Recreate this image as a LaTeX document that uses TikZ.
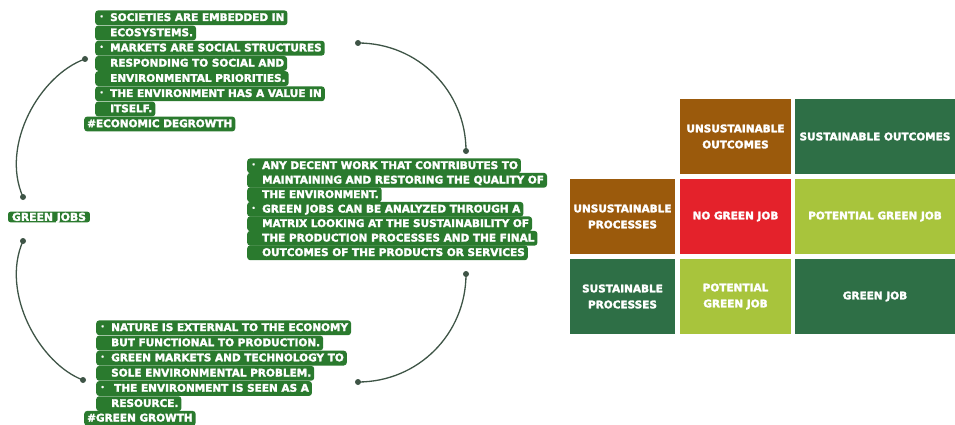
\documentclass[tikz,border=0pt]{standalone}
\usepackage{fontspec}
\setmainfont{DejaVu Sans}
\newfontfamily\heavy{DejaVu Sans Bold}[FakeBold=2.5]
\definecolor{boxgreen}{RGB}{42,122,46}
\definecolor{linecol}{RGB}{62,84,70}
\definecolor{mbrown}{RGB}{155,90,12}
\definecolor{mgreen}{RGB}{46,111,70}
\definecolor{mred}{RGB}{228,34,43}
\definecolor{mlime}{RGB}{168,196,60}
\newcommand\bul{\makebox[12pt][l]{\hspace{1.5pt}\raisebox{2.4pt}{\fontsize{6}{6}\selectfont\textbullet}}}
\newcommand\ind{\hspace*{12pt}}
\begin{document}
\begin{tikzpicture}[x=1pt,y=-1pt,
  hl/.style={fill=boxgreen, text=white, rounded corners=3pt, inner xsep=3pt, inner ysep=1.6pt,
    text height=9pt, text depth=2.6pt, anchor=base west,
    font=\heavy\fontsize{10.5}{14}\selectfont},
  gj/.style={fill=boxgreen, text=white, rounded corners=2.5pt, inner xsep=4pt, inner ysep=1.5pt,
    text height=7.6pt, text depth=0pt,
    font=\heavy\fontsize{10.8}{13}\selectfont},
  dot/.style={circle, fill=linecol, inner sep=0pt, minimum size=6pt},
  conn/.style={draw=linecol, line width=1.3pt},
  cell/.style={rectangle, inner sep=0pt, text=white, align=center,
    font=\heavy\fontsize{10.5}{16}\selectfont},
]
\useasboundingbox (0,0) rectangle (955,425);

% ---------- top box ----------
\node[hl] (t1) at (95,21)    {\bul SOCIETIES ARE EMBEDDED IN};
\node[hl] (t2) at (95,36.2)  {\ind ECOSYSTEMS.};
\node[hl] (t3) at (95,51.4)  {\bul MARKETS ARE SOCIAL STRUCTURES};
\node[hl] (t4) at (95,66.6)  {\ind RESPONDING TO SOCIAL AND};
\node[hl] (t5) at (95,81.8)  {\ind ENVIRONMENTAL PRIORITIES.};
\node[hl] (t6) at (95,97)    {\bul THE ENVIRONMENT HAS A VALUE IN};
\node[hl] (t7) at (95,112.2) {\ind ITSELF.};
\node[hl] (t8) at (84,127.2) {\#ECONOMIC DEGROWTH};

% ---------- middle box ----------
\node[hl] (m1) at (247,169)   {\bul ANY DECENT WORK THAT CONTRIBUTES TO};
\node[hl] (m2) at (247,183.5) {\ind MAINTAINING AND RESTORING THE QUALITY OF};
\node[hl] (m3) at (247,198)   {\ind THE ENVIRONMENT.};
\node[hl] (m4) at (247,212.5) {\bul GREEN JOBS CAN BE ANALYZED THROUGH A};
\node[hl] (m5) at (247,227)   {\ind MATRIX LOOKING AT THE SUSTAINABILITY OF};
\node[hl] (m6) at (247,241.5) {\ind THE PRODUCTION PROCESSES AND THE FINAL};
\node[hl] (m7) at (247,256)   {\ind OUTCOMES OF THE PRODUCTS OR SERVICES};

% ---------- bottom box ----------
\node[hl] (b1) at (96,331)   {\bul NATURE IS EXTERNAL TO THE ECONOMY};
\node[hl] (b2) at (96,346.2) {\ind BUT FUNCTIONAL TO PRODUCTION.};
\node[hl] (b3) at (96,361.3) {\bul GREEN MARKETS AND TECHNOLOGY TO};
\node[hl] (b4) at (96,376.5) {\ind SOLE ENVIRONMENTAL PROBLEM.};
\node[hl] (b5) at (96,391.7) {\bul\hspace{3pt}THE ENVIRONMENT IS SEEN AS A};
\node[hl] (b6) at (96,406.9) {\ind RESOURCE.};
\node[hl] (b7) at (84,421.5) {\#GREEN GROWTH};

% ---------- green jobs ----------
\node[gj] (gj) at (49,217) {GREEN JOBS};

% ---------- connectors ----------
\node[dot] (dA) at (85,59) {};
\node[dot] (dB) at (23,197) {};
\node[dot] (dC) at (23,241) {};
\node[dot] (dD) at (83,380) {};
\node[dot] (dE) at (358,43) {};
\node[dot] (dF) at (466,151) {};
\node[dot] (dG) at (466,274) {};
\node[dot] (dH) at (358,382) {};
\draw[conn] (dA.center) .. controls (40,75) and (0,145) .. (dB.center);
\draw[conn] (dC.center) .. controls (0,293) and (40,364) .. (dD.center);
\draw[conn] (dE.center) .. controls (418,43) and (466,91) .. (dF.center);
\draw[conn] (dG.center) .. controls (466,334) and (418,382) .. (dH.center);

% ---------- matrix ----------
\node[cell, fill=mbrown, minimum width=111pt, minimum height=75pt] (c01) at (735.5,136.5) {UNSUSTAINABLE\\OUTCOMES};
\node[cell, fill=mgreen, minimum width=160pt, minimum height=75pt] (c02) at (875,136.5) {SUSTAINABLE OUTCOMES};
\node[cell, fill=mbrown, minimum width=105pt, minimum height=75pt] (c10) at (622.5,216.5) {UNSUSTAINABLE\\PROCESSES};
\node[cell, fill=mred,   minimum width=111pt, minimum height=75pt] (c11) at (735.5,216.5) {NO GREEN JOB};
\node[cell, fill=mlime,  minimum width=160pt, minimum height=75pt] (c12) at (875,216.5) {POTENTIAL GREEN JOB};
\node[cell, fill=mgreen, minimum width=105pt, minimum height=75pt] (c20) at (622.5,296.5) {SUSTAINABLE\\PROCESSES};
\node[cell, fill=mlime,  minimum width=111pt, minimum height=75pt] (c21) at (735.5,296.5) {POTENTIAL\\GREEN JOB};
\node[cell, fill=mgreen, minimum width=160pt, minimum height=75pt] (c22) at (875,296.5) {GREEN JOB};
\end{tikzpicture}
\end{document}
